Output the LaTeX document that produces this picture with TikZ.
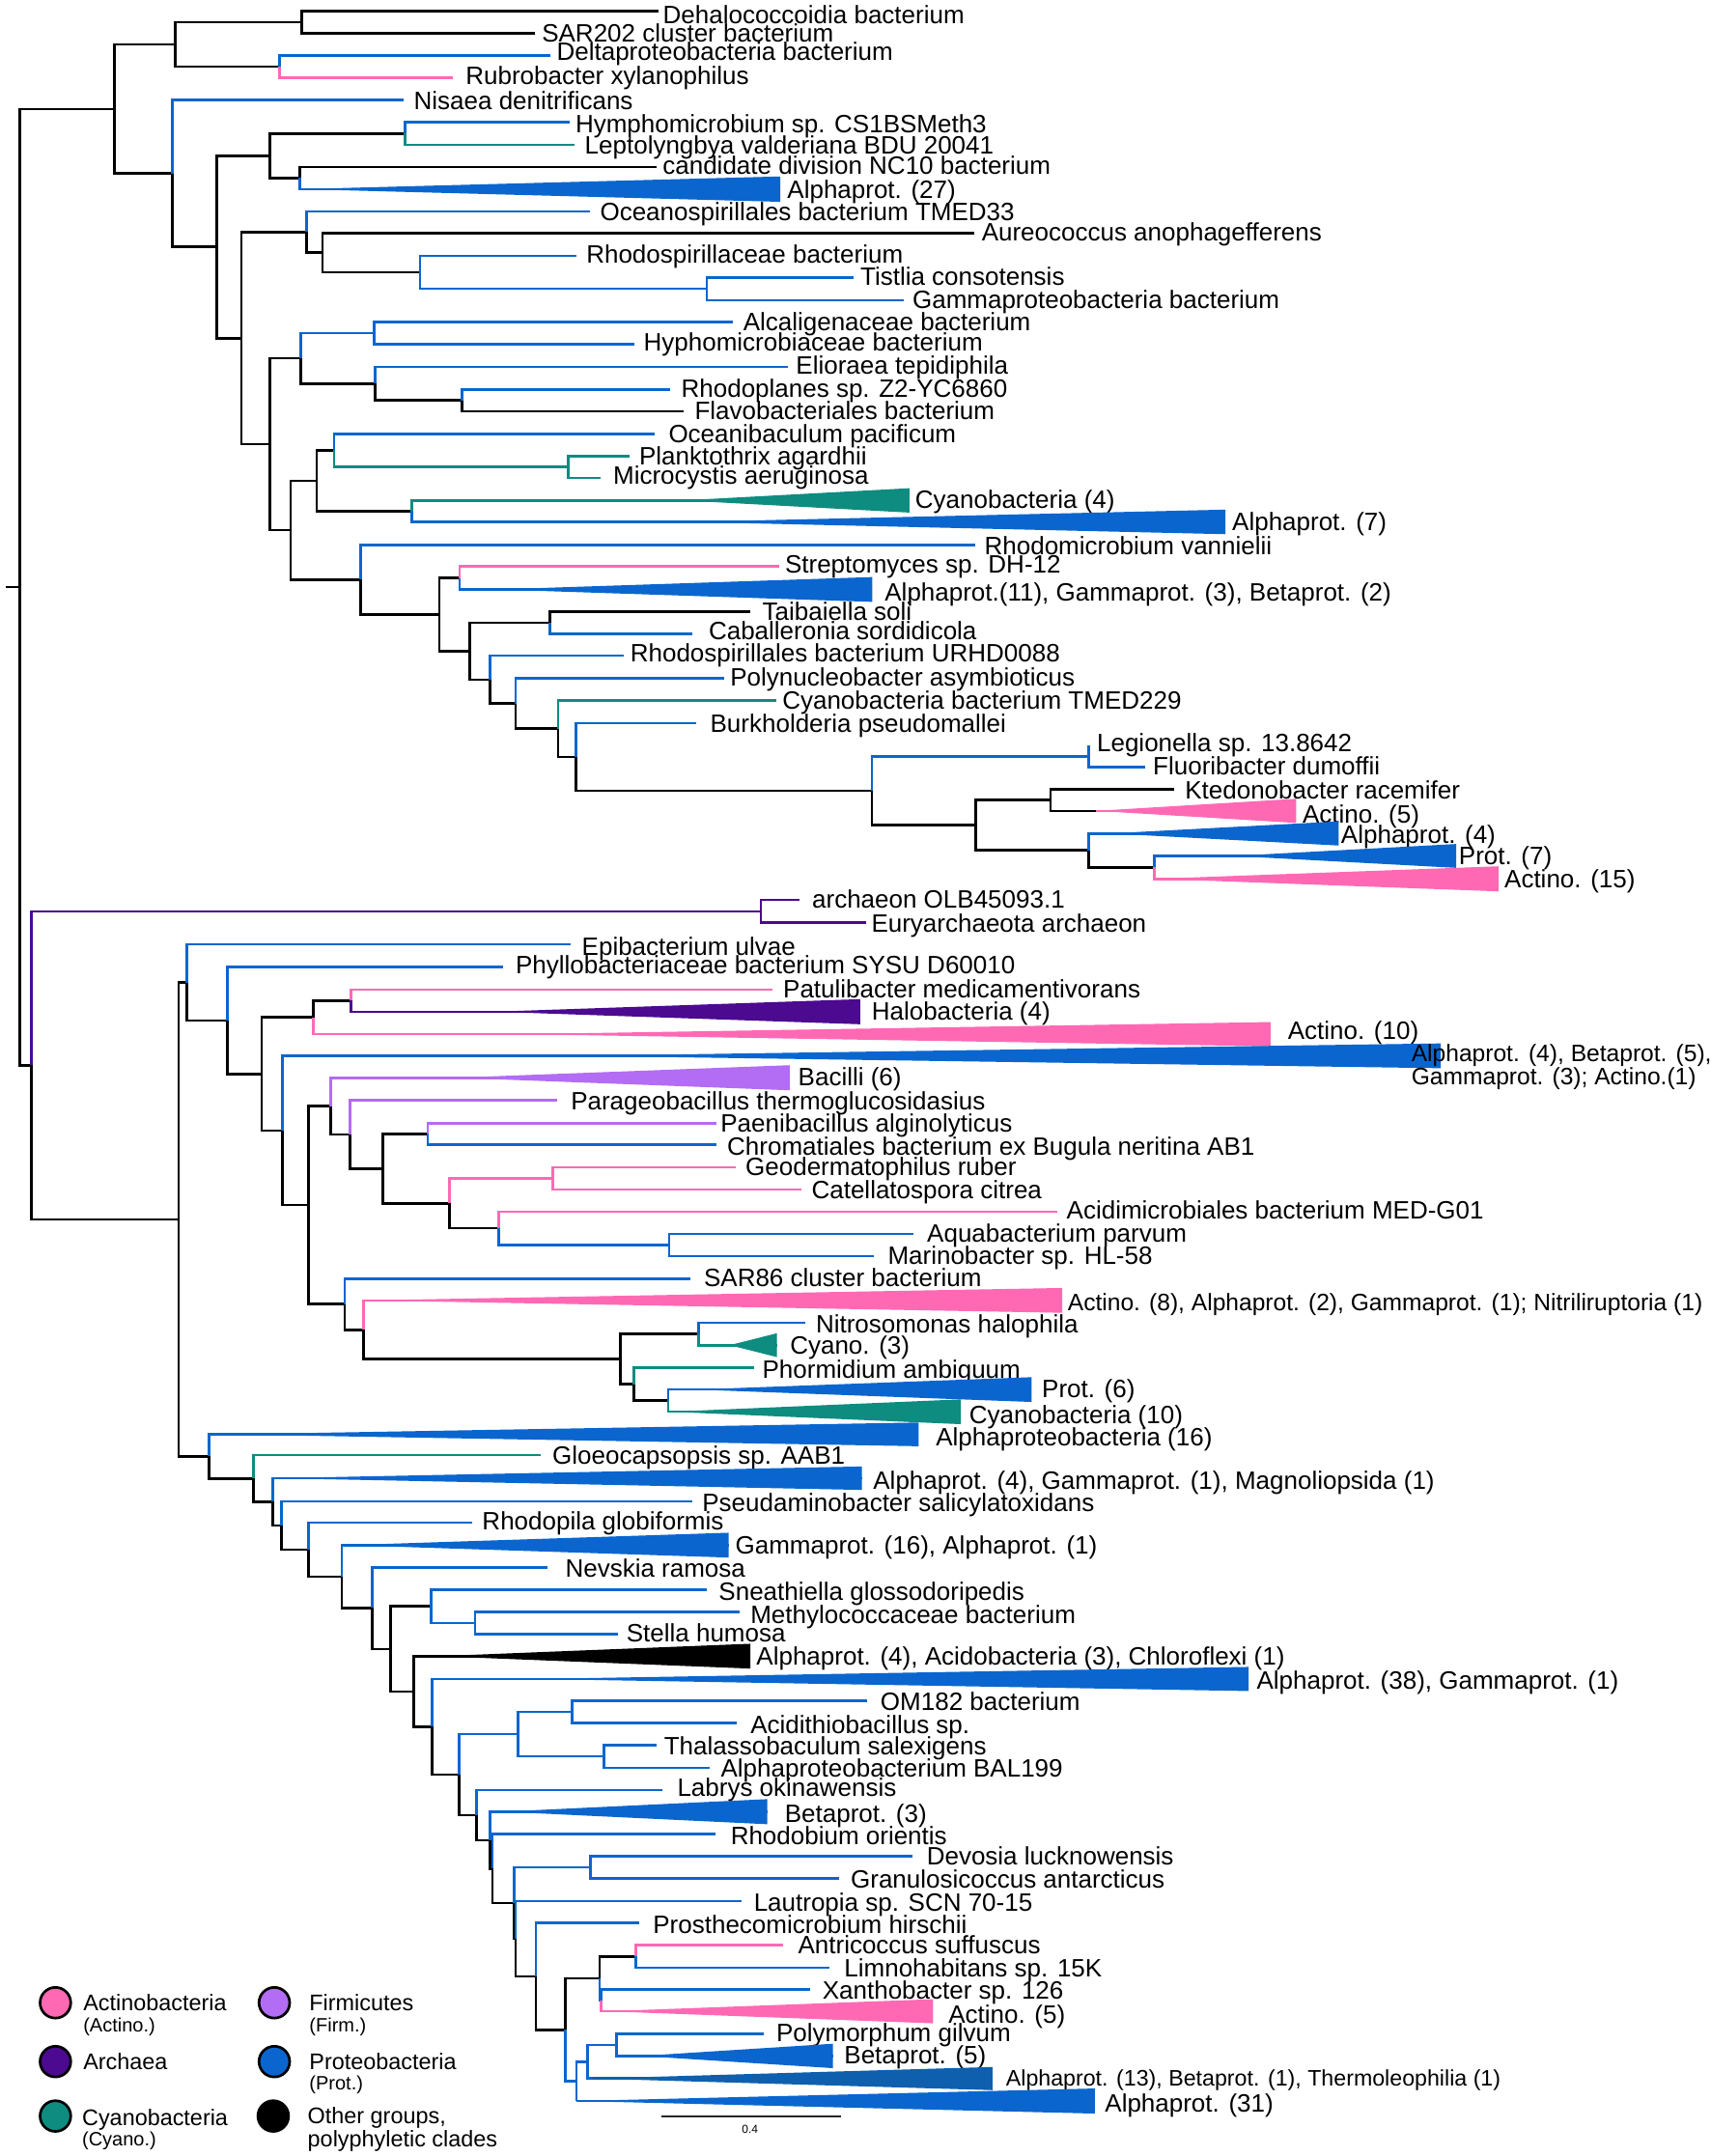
\documentclass[tikz,border=0pt]{standalone}
\usepackage{fontspec}
\setmainfont{Liberation Sans}
\usetikzlibrary{calc}
\definecolor{cb}{HTML}{0A66CE}
\definecolor{cb2}{HTML}{0E60AE}
\definecolor{cp}{HTML}{FF69B4}
\definecolor{ct}{HTML}{0E8C80}
\definecolor{ca}{HTML}{4B0A8F}
\definecolor{cf}{HTML}{B36CF4}
\newcommand{\brnode}[5]{\coordinate (#1) at (#4,#5); \draw[br,#3] (#2) |- (#1);}
\newcommand{\brleaf}[8]{\coordinate (#1) at (#4,#5); \draw[br,#3] (#2) |- (#1); \node[lab] (#1t) at (#6,#7) {#8};}
\newcommand{\brtri}[8]{\coordinate (#1) at (#5,#6); \coordinate (#1e) at (#7,#6); \draw[br,#3] (#2) |- (#1); \fill[#4] (#1) -- ($(#1e)+(0,#8)$) -- ($(#1e)+(0,-#8)$) -- cycle; \draw[br,#4] (#1) -- (#1e);}
\tikzset{
 br/.style={line width=2.6pt},
 lab/.style={anchor=west, inner sep=0pt, font=\fontsize{26}{26}\selectfont, text height=18.6pt, text depth=0pt},
 lab2/.style={lab, font=\fontsize{24.6}{24.6}\selectfont, text height=17.6pt},
 lab3/.style={lab, font=\fontsize{23.2}{23.2}\selectfont, text height=16.6pt},
 legt/.style={lab, font=\fontsize{23.4}{23.4}\selectfont, text height=16.75pt},
 legs/.style={lab, font=\fontsize{20}{20}\selectfont, text height=14.3pt},
 legc/.style={circle, draw=black, line width=2.7pt, minimum size=31.8pt, inner sep=0pt},
}
\begin{document}
\begin{tikzpicture}[x=1.4279pt,y=-1.4279pt]
\useasboundingbox (0,0) rectangle (1241,1564);
% root
\coordinate (root) at (14.5,425.95);
\coordinate (stub) at (4.2,425.95);
\draw[br] (stub) -- (root);
% ---------- upper clade
\brnode{B}{root}{black}{83}{79.05}
\brnode{C}{B}{black}{127}{32.3}
\brnode{D}{C}{black}{219}{16.1}
\brleaf{Dehal}{D}{black}{477.7}{8.2}{480.8}{10.5}{Dehalococcoidia bacterium}
\brleaf{SARtwo}{D}{black}{387.7}{24}{393}{24}{SAR202 cluster bacterium}
\brnode{E}{C}{black}{202.6}{48.45}
\brleaf{Delta}{E}{cb}{399}{40.4}{403.7}{37.5}{Deltaproteobacteria bacterium}
\brleaf{Rubro}{E}{cp}{328.7}{56.5}{337.7}{55}{Rubrobacter xylanophilus}
\brnode{F}{B}{black}{125}{125.8}
\brleaf{Nisaea}{F}{cb}{293}{72.4}{300.1}{73}{Nisaea denitrificans}
\brnode{G}{F}{black}{157.2}{179.15}
\brnode{H}{G}{black}{195.8}{113}
\brnode{J}{H}{black}{293.7}{96.85}
\brleaf{Hymph}{J}{cb}{413.4}{88.7}{417.3}{89.6}{Hymphomicrobium sp. CS1BSMeth3}
\brleaf{Lepto}{J}{ct}{417}{105}{424.1}{105.5}{Leptolyngbya valderiana BDU 20041}
\brnode{K}{H}{black}{217.6}{129.15}
\brleaf{NCten}{K}{black}{476.3}{121.1}{480.6}{120}{candidate division NC10 bacterium}
\brtri{tAa}{K}{cb}{cb}{218}{137.2}{566}{9.2}
\node[lab] (tAat) at (571,137.5) {Alphaprot. (27)};
\brnode{I}{G}{black}{175.1}{245.3}
\brnode{L}{I}{black}{222.2}{168.3}
\brleaf{Oceanosp}{L}{cb}{427.7}{153.3}{435.2}{153.6}{Oceanospirillales bacterium TMED33}
\brnode{N}{L}{black}{234}{183.3}
\brleaf{Aureo}{N}{black}{707}{169}{712}{168.5}{Aureococcus anophagefferens}
\brnode{O}{N}{black}{304.8}{197.55}
\brleaf{Rhodospir}{O}{cb}{418}{185.6}{425.2}{184.6}{Rhodospirillaceae bacterium}
\brnode{P}{O}{cb}{512.7}{209.5}
\brleaf{Tistlia}{P}{cb}{619}{201.2}{624}{200.5}{Tistlia consotensis}
\brleaf{Gammabact}{P}{cb}{655.7}{217.8}{661.8}{217.3}{Gammaproteobacteria bacterium}
\brnode{M}{I}{black}{195.8}{322.3}
\brnode{Q}{M}{black}{218}{259.95}
\brnode{S}{Q}{cb}{271.6}{241.7}
\brleaf{Alcal}{S}{cb}{531.9}{233.6}{539}{233.4}{Alcaligenaceae bacterium}
\brleaf{Hyphomicro}{S}{cb}{460}{249.8}{466.8}{248}{Hyphomicrobiaceae bacterium}
\brnode{T}{Q}{black}{272.3}{278.2}
\brleaf{Elioraea}{T}{cb}{571.3}{266.1}{577.3}{265}{Elioraea tepidiphila}
\brnode{U}{T}{black}{335.1}{290.35}
\brleaf{Rhodoplanes}{U}{cb}{486.1}{282.4}{494.1}{281.5}{Rhodoplanes sp. Z2-YC6860}
\brleaf{Flavo}{U}{black}{495.7}{298.3}{503.8}{297.8}{Flavobacteriales bacterium}
\brnode{R}{M}{black}{210.8}{384.6}
\brnode{V}{R}{black}{229.7}{348.75}
\brnode{X}{V}{black}{242.2}{326.7}
\brleaf{Oceanibac}{X}{cb}{474.8}{314.7}{484.9}{314.3}{Oceanibaculum pacificum}
\brnode{Z}{X}{ct}{412}{338.75}
\brleaf{Plankto}{Z}{ct}{456.7}{330.8}{463.6}{331}{Planktothrix agardhii}
\brleaf{Microcy}{Z}{ct}{435.8}{346.7}{444.7}{345}{Microcystis aeruginosa}
\brnode{Y}{V}{black}{298.7}{370.8}
\brtri{tCyf}{Y}{ct}{ct}{495}{363}{659.7}{8.85}
\node[lab] (tCyft) at (663.8,362) {Cyanobacteria (4)};
\brtri{tAls}{Y}{cb}{cb}{500}{378.6}{888.9}{8.9}
\node[lab] (tAlst) at (893.7,378.5) {Alphaprot. (7)};
\brnode{W}{R}{black}{261.5}{420.5}
\brleaf{Rhodomicro}{W}{cb}{707.2}{395.2}{714}{395.7}{Rhodomicrobium vannielii}
\brnode{AA}{W}{black}{318.7}{445.8}
\brnode{AB}{AA}{black}{333.4}{419.2}
\brleaf{Strepto}{AB}{cp}{565.3}{410.8}{569.3}{409}{Streptomyces sp. DH-12}
\brtri{tEl}{AB}{cb}{cb}{360}{427.6}{632.8}{9}
\node[lab] (tElt) at (641.7,429.7) {Alphaprot.(11), Gammaprot. (3), Betaprot. (2)};
\brnode{AC}{AA}{black}{340.9}{472.35}
\brnode{AD}{AC}{black}{399}{451.7}
\brleaf{Taibai}{AD}{black}{544.2}{443.5}{552.9}{443.5}{Taibaiella soli}
\brleaf{Caballer}{AD}{cb}{502.4}{459.9}{514}{457.5}{Caballeronia sordidicola}
\brnode{AE}{AC}{black}{355.4}{493}
\brleaf{RhodoURH}{AE}{cb}{452.4}{475.7}{457.1}{473.5}{Rhodospirillales bacterium URHD0088}
\brnode{AF}{AE}{black}{374}{510.25}
\brleaf{Polynuc}{AF}{cb}{525.6}{491.9}{529.6}{490.8}{Polynucleobacter asymbioticus}
\brnode{AG}{AF}{black}{404.8}{528.6}
\brleaf{CyTMED}{AG}{ct}{563.3}{508.2}{567.4}{507.8}{Cyanobacteria bacterium TMED229}
\brnode{AH}{AG}{black}{417.6}{549.05}
\brleaf{Burkh}{AH}{cb}{504.7}{524.5}{515.1}{524.8}{Burkholderia pseudomallei}
\brnode{AI}{AH}{black}{632.4}{573.6}
\brnode{AJ}{AI}{cb}{789.8}{548.6}
\brleaf{Legion}{AJ}{cb}{789.8}{540.9}{795.6}{538.5}{Legionella sp. 13.8642}
\brleaf{Fluori}{AJ}{cb}{830.4}{556.3}{836.3}{555.3}{Fluoribacter dumoffii}
\brnode{AK}{AI}{black}{707.9}{598.65}
\brnode{AL}{AK}{black}{761.9}{580.4}
\brleaf{Ktedo}{AL}{black}{851.9}{572.6}{859.5}{573.2}{Ktedonobacter racemifer}
\brtri{tAcf}{AL}{black}{cp}{795}{588.2}{940.2}{8.75}
\node[lab] (tAcft) at (944.8,590.6) {Actino. (5)};
\brnode{AM}{AK}{black}{789.8}{616.9}
\brtri{tAlf}{AM}{cb}{cb}{805}{604.6}{971}{8.75}
\node[lab] (tAlft) at (972.7,605.3) {Alphaprot. (4)};
\brnode{AN}{AM}{black}{837.4}{629.2}
\brtri{tPs}{AN}{cb}{cb}{895}{620.9}{1056.3}{8.65}
\node[lab] (tPst) at (1058.1,621) {Prot. (7)};
\brtri{tAcff}{AN}{cp}{cp}{838}{637.5}{1087.1}{9.1}
\node[lab] (tAcfft) at (1091.2,637.5) {Actino. (15)};
% ---------- lower clade
\brnode{BA}{root}{black}{22.9}{772.85}
\brnode{BB}{BA}{ca}{551.9}{661.1}
\brleaf{Archaeon}{BB}{ca}{580}{652.9}{589}{652.5}{archaeon OLB45093.1}
\brleaf{Eury}{BB}{ca}{628}{669.3}{632}{670}{Euryarchaeota archaeon}
\brnode{BC}{BA}{black}{129.6}{884.6}
\brnode{BD}{BC}{black}{135.5}{712.7}
\brleaf{Epibac}{BD}{cb}{414}{685.1}{422}{686.3}{Epibacterium ulvae}
\brnode{BF}{BD}{black}{164.8}{740.25}
\brleaf{Phyllo}{BF}{cb}{364.6}{701.5}{373.9}{700}{Phyllobacteriaceae bacterium SYSU D60010}
\brnode{BG}{BF}{black}{189.7}{779}
\brnode{BH}{BG}{black}{227.1}{738}
\brnode{BJ}{BH}{black}{254.5}{725.85}
\brleaf{Patuli}{BJ}{cp}{560}{717.8}{568}{717.4}{Patulibacter medicamentivorans}
\brtri{tHalo}{BJ}{ca}{ca}{358}{733.9}{623.9}{9.1}
\node[lab] (tHalot) at (632.2,733.7) {Halobacteria (4)};
\brtri{tAct}{BH}{cp}{cp}{378}{750.2}{921.6}{8.8}
\node[lab] (tActt) at (934.1,747.5) {Actino. (10)};
\brnode{BI}{BG}{black}{205}{820.05}
\brtri{tBig}{BI}{cb}{cb}{420}{765.9}{1045.1}{9}
\node[lab2] (tBigt) at (1023.7,763.8) {Alphaprot. (4), Betaprot. (5),};
\node[lab2] (tBigu) at (1023.7,780.8) {Gammaprot. (3); Actino.(1)};
\brnode{BK}{BI}{black}{223.6}{874.2}
\brnode{BL}{BK}{black}{240}{802.4}
\brtri{tBac}{BL}{cf}{cf}{330}{781.8}{572.9}{9.1}
\node[lab] (tBact) at (578.9,780.8) {Bacilli (6)};
\brnode{BN}{BL}{black}{254.1}{823}
\brleaf{Parageo}{BN}{cf}{404}{798.3}{414}{798.4}{Parageobacillus thermoglucosidasius}
\brnode{BO}{BN}{black}{277.5}{847.75}
\brnode{BP}{BO}{black}{310.3}{822.5}
\brleaf{Paeni}{BP}{cf}{519.4}{814.7}{522.6}{814.7}{Paenibacillus alginolyticus}
\brleaf{Chroma}{BP}{cb}{519.4}{830.3}{527.4}{831.3}{Chromatiales bacterium ex Bugula neritina AB1}
\brnode{BQ}{BO}{black}{326}{873}
\brnode{BR}{BQ}{cp}{401.1}{854.95}
\brleaf{Geoderm}{BR}{cp}{533.9}{846.9}{540.7}{846.3}{Geodermatophilus ruber}
\brleaf{Catella}{BR}{cp}{581.5}{863}{588.6}{863.3}{Catellatospora citrea}
\brnode{BS}{BQ}{black}{361.7}{891}
\brleaf{Acidimi}{BS}{cp}{766.6}{878.9}{773.6}{877.8}{Acidimicrobiales bacterium MED-G01}
\brnode{BT}{BS}{cb}{485.5}{903.15}
\brleaf{Aquabac}{BT}{cb}{662.6}{895.2}{672.4}{894.2}{Aquabacterium parvum}
\brleaf{Marino}{BT}{cb}{634.2}{911.1}{643.9}{910.4}{Marinobacter sp. HL-58}
\brnode{BM}{BK}{black}{250.1}{946.05}
\brleaf{SAReight}{BM}{cb}{501.1}{927.5}{510.5}{926.8}{SAR86 cluster bacterium}
\brnode{BU}{BM}{black}{263.5}{964.6}
\brtri{tAce}{BU}{cp}{cp}{265}{943.3}{770.5}{9}
\node[lab2] (tAcet) at (774.4,944.5) {Actino. (8), Alphaprot. (2), Gammaprot. (1); Nitriliruptoria (1)};
\brnode{BV}{BU}{black}{450.2}{985.85}
\brnode{BW}{BV}{black}{506.9}{967.6}
\brleaf{Nitroso}{BW}{cb}{584.2}{959.4}{591.7}{960.4}{Nitrosomonas halophila}
\brtri{tCyt}{BW}{ct}{ct}{529.2}{975.8}{563.6}{8.65}
\node[lab] (tCytt) at (573,976) {Cyano. (3)};
\brnode{BX}{BV}{black}{460}{1004.1}
\brleaf{Phormi}{BX}{ct}{547.1}{992.1}{552.9}{993.2}{Phormidium ambiguum}
\brnode{BY}{BX}{black}{484.6}{1016.05}
\brtri{tPsix}{BY}{cb}{cb}{505}{1008}{748.3}{9}
\node[lab] (tPsixt) at (755.7,1007) {Prot. (6)};
\brtri{tCyten}{BY}{ct}{ct}{486}{1024.1}{697}{9}
\node[lab] (tCytent) at (703,1026) {Cyanobacteria (10)};
\brnode{BE}{BC}{black}{151.8}{1056.5}
\brtri{tAlsx}{BE}{cb}{cb}{165}{1040.5}{666.3}{8.6}
\node[lab] (tAlsxt) at (678.8,1042) {Alphaproteobacteria (16)};
\brnode{BZ}{BE}{black}{184}{1072.5}
\brleaf{Gloeo}{BZ}{ct}{392.1}{1055.6}{400.6}{1055.3}{Gloeocapsopsis sp. AAB1}
\brnode{CA}{BZ}{black}{198}{1089.45}
\brtri{tAGM}{CA}{cb}{cb}{200}{1072.3}{625.2}{8.5}
\node[lab] (tAGMt) at (633.3,1073.5) {Alphaprot. (4), Gammaprot. (1), Magnoliopsida (1)};
\brnode{CB}{CA}{black}{204.2}{1106.6}
\brleaf{Pseudam}{CB}{cb}{502.2}{1089}{509.3}{1090.2}{Pseudaminobacter salicylatoxidans}
\brnode{CC}{CB}{black}{223.9}{1124.15}
\brleaf{Rhodopila}{CC}{cb}{342.5}{1104.6}{349.7}{1103}{Rhodopila globiformis}
\brnode{CD}{CC}{black}{248}{1143.7}
\brtri{tGs}{CD}{cb}{cb}{252}{1120.85}{528.6}{9}
\node[lab] (tGst) at (533.3,1121) {Gammaprot. (16), Alphaprot. (1)};
\brnode{CE}{CD}{black}{270.1}{1166.5}
\brleaf{Nevskia}{CE}{cb}{397.2}{1136.9}{410}{1137.5}{Nevskia ramosa}
\brnode{CF}{CE}{black}{283.4}{1196.15}
\brnode{CG}{CF}{black}{312.8}{1165.3}
\brleaf{Sneath}{CG}{cb}{512.7}{1153.2}{521.3}{1154.5}{Sneathiella glossodoripedis}
\brnode{CI}{CG}{cb}{344.5}{1177.45}
\brleaf{Methylo}{CI}{cb}{536.6}{1169.5}{544.3}{1171}{Methylococcaceae bacterium}
\brleaf{Stella}{CI}{cb}{448.2}{1185.4}{454.3}{1184.5}{Stella humosa}
\brnode{CH}{CF}{black}{300.3}{1227}
\brtri{tBlk}{CH}{black}{black}{318}{1201.4}{544.3}{9}
\node[lab] (tBlkt) at (548.6,1201.5) {Alphaprot. (4), Acidobacteria (3), Chloroflexi (1)};
\brnode{CJ}{CH}{black}{313.6}{1252.6}
\brtri{tAltt}{CJ}{cb}{cb}{387}{1217.95}{905.7}{8.75}
\node[lab] (tAlttt) at (911.5,1218.5) {Alphaprot. (38), Gammaprot. (1)};
\brnode{CK}{CJ}{black}{332.9}{1287.3}
\brnode{CL}{CK}{cb}{375.9}{1258}
\brnode{CM}{CL}{cb}{414.9}{1241.85}
\brleaf{OMbact}{CM}{cb}{629}{1233.7}{638.6}{1234.5}{OM182 bacterium}
\brleaf{Acidithio}{CM}{cb}{534.7}{1250}{544.3}{1251}{Acidithiobacillus sp.}
\brnode{CN}{CL}{cb}{438.2}{1274.15}
\brleaf{Thalasso}{CN}{cb}{476.4}{1266}{481.6}{1266.5}{Thalassobaculum salexigens}
\brleaf{BALbact}{CN}{cb}{515.1}{1282.3}{522.8}{1282.5}{Alphaproteobacterium BAL199}
\brnode{CO}{CK}{black}{345.7}{1316.65}
\brleaf{Labrys}{CO}{cb}{480.4}{1298.4}{491.2}{1296.5}{Labrys okinawensis}
\brnode{CP}{CO}{black}{355.5}{1334.9}
\brtri{tBt}{CP}{cb}{cb}{365}{1314.2}{556.5}{9.1}
\node[lab] (tBtt) at (569.2,1315.5) {Betaprot. (3)};
\brnode{PB}{CP}{black}{357.3}{1355.55}
\brleaf{Rhodobium}{PB}{cb}{518.9}{1330.6}{529.9}{1331.8}{Rhodobium orientis}
\brnode{CQ}{PB}{black}{373}{1380.5}
\brnode{CS}{CQ}{cb}{428.1}{1354.65}
\brleaf{Devosia}{CS}{cb}{661.6}{1346.5}{672.1}{1346.5}{Devosia lucknowensis}
\brleaf{Granulo}{CS}{cb}{608.9}{1362.8}{617}{1363}{Granulosicoccus antarcticus}
\brnode{PD}{CQ}{black}{374}{1406.4}
\brleaf{Lautropia}{PD}{cb}{538}{1379.2}{546.7}{1379.6}{Lautropia sp. SCN 70-15}
\brnode{CT}{PD}{black}{388.7}{1433.65}
\brleaf{Prosth}{CT}{cb}{463.5}{1394.8}{473.6}{1396}{Prosthecomicrobium hirschii}
\brnode{CU}{CT}{black}{410}{1472.5}
\brnode{CV}{CU}{black}{435}{1435.2}
\brnode{CX}{CV}{black}{461.1}{1419.3}
\brleaf{Antric}{CX}{cp}{568.2}{1411.1}{578.8}{1411}{Antricoccus suffuscus}
\brleaf{Limno}{CX}{cb}{601.7}{1427.5}{612.3}{1427.5}{Limnohabitans sp. 15K}
\brnode{PE}{CV}{cb}{436}{1451.15}
\brleaf{Xantho}{PE}{cb}{587.4}{1443.3}{596.5}{1443.8}{Xanthobacter sp. 126}
\brtri{tAcfb}{PE}{cp}{cp}{440}{1459}{676.9}{8.75}
\node[lab] (tAcfbt) at (687.9,1461.3) {Actino. (5)};
\brnode{CW}{CU}{cb}{418}{1509.8}
\brnode{CY}{CW}{cb}{426.1}{1495.6}
\brnode{CZ}{CY}{cb}{447.4}{1483.35}
\brleaf{Polymor}{CZ}{cb}{553.9}{1475.3}{563}{1474.8}{Polymorphum gilvum}
\brtri{tBf}{CZ}{cb}{cb}{465}{1491.4}{604.1}{8.85}
\node[lab] (tBft) at (612.3,1490.5) {Betaprot. (5)};
\brtri{tAlth}{CY}{cb}{cb2}{430}{1507.8}{720}{8.4}
\node[lab3] (tAltht) at (729.6,1507.5) {Alphaprot. (13), Betaprot. (1), Thermoleophilia (1)};
\brtri{tAltho}{CW}{cb}{cb}{418}{1524.1}{794.2}{9.1}
\node[lab] (tAlthot) at (801.4,1525.5) {Alphaprot. (31)};
% ---------- scale bar
\coordinate (sba) at (479.6,1535.3);
\coordinate (sbb) at (609.9,1535.3);
\draw[line width=1.4pt, black!85] (sba) -- (sbb);
\node[inner sep=0pt, font=\fontsize{12}{12}\selectfont] (sbl) at (544,1544.8) {0.4};
% ---------- legend
\node[legc, fill=cp] (lga) at (40.2,1452.8) {};
\node[legt] (lgat) at (60.3,1452.9) {Actinobacteria};
\node[legs] (lgas) at (60.3,1468.8) {(Actino.)};
\node[legc, fill=cf] (lgb) at (199,1452.8) {};
\node[legt] (lgbt) at (224.3,1452.9) {Firmicutes};
\node[legs] (lgbs) at (224.3,1468.8) {(Firm.)};
\node[legc, fill=ca] (lgc) at (40.2,1495.5) {};
\node[legt] (lgct) at (60.3,1495.6) {Archaea};
\node[legc, fill=cb] (lgd) at (199,1495.5) {};
\node[legt] (lgdt) at (224.3,1495.6) {Proteobacteria};
\node[legs] (lgds) at (224.3,1511) {(Prot.)};
\node[legc, fill=ct] (lge) at (40.2,1535) {};
\node[legt] (lget) at (59.5,1536.2) {Cyanobacteria};
\node[legs] (lges) at (59.5,1551.9) {(Cyano.)};
\node[legc, fill=black] (lgf) at (198.2,1535) {};
\node[legt] (lgft) at (223.1,1534.6) {Other groups,};
\node[legt] (lgfs) at (223.1,1551.2) {polyphyletic clades};
\end{tikzpicture}
\end{document}
